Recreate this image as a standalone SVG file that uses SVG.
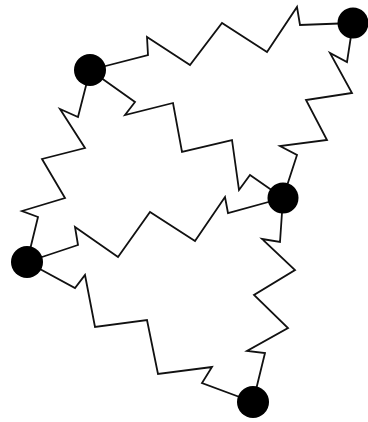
<svg xmlns="http://www.w3.org/2000/svg" width="368" height="422" viewBox="0 0 368 422">
<style>
.spring{fill:none;stroke:#111;stroke-width:1.8;stroke-linejoin:miter}
.dot{fill:#000}
</style>
<rect width="368" height="422" fill="#fff"/>
<g id="connectors">
<polyline class="spring" points="90,70 148,55 147,37 190,65 222,23 267,52 297,7 300,25 353,23"/>
<polyline class="spring" points="90,70 135,102 125,115 173,103 182,152 232,140 239,190 250,175 283,198"/>
<polyline class="spring" points="90,70 78,117 60,109 85,148 42,159 65,198 22,211 38,217 27,262"/>
<polyline class="spring" points="27,262 78,245 75,227 118,257 150,212 195,241 225,197 228,213 283,198"/>
<polyline class="spring" points="27,262 75,288 85,275 95,327 147,320 158,374 212,367 202,383 253,402"/>
<polyline class="spring" points="353,23 347,62 330,53 352,93 306,100 327,140 280,146 297,155 283,198"/>
<polyline class="spring" points="283,198 280,242 262,239 295,270 254,295 288,328 247,351 265,353 253,402"/>
</g>
<g id="n1"><circle class="dot" cx="90" cy="70" r="16"/></g>
<g id="n2"><circle class="dot" cx="353" cy="23" r="15.5"/></g>
<g id="n3"><circle class="dot" cx="283" cy="198" r="15.5"/></g>
<g id="n4"><circle class="dot" cx="27" cy="262" r="16"/></g>
<g id="n5"><circle class="dot" cx="253" cy="402" r="16"/></g>
</svg>
